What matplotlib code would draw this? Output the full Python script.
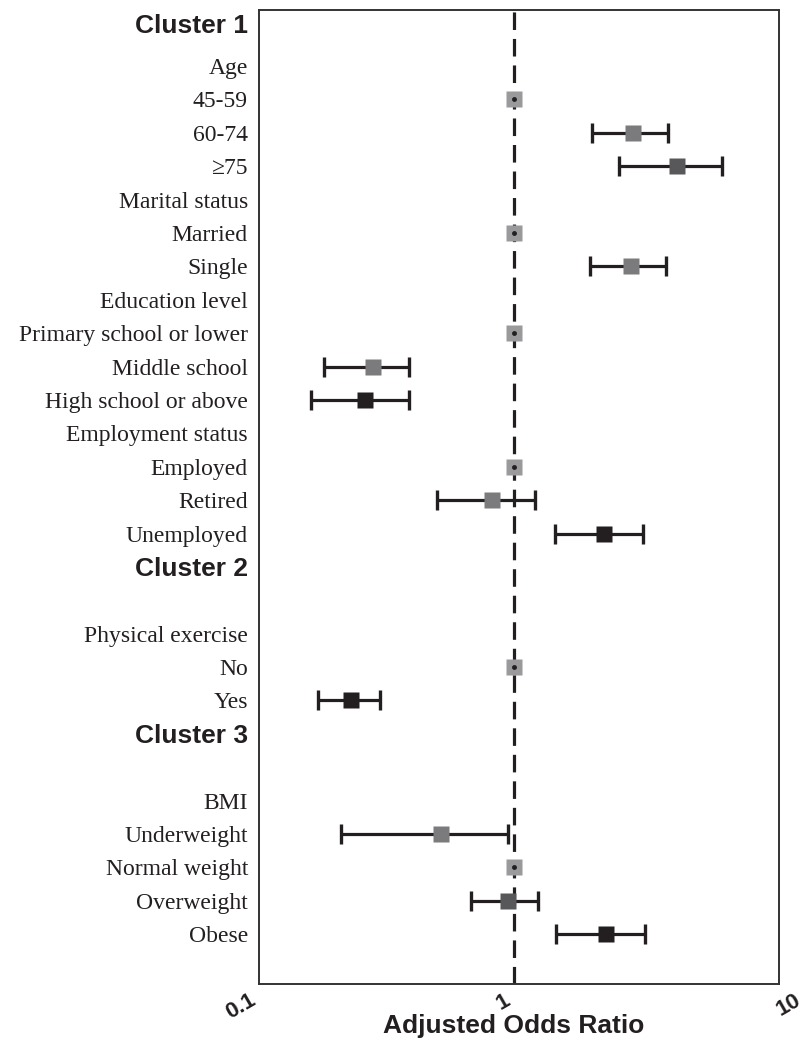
import matplotlib
matplotlib.use("Agg")
from matplotlib import pyplot as plt
from matplotlib.transforms import ScaledTranslation
import numpy as np

# row labels, top to bottom ("" = blank spacer row)
row_labels = ["Cluster 1", "Age", "45-59", "60-74", "\u226575", "Marital status",
              "Married", "Single", "Education level", "Primary school or lower",
              "Middle school", "High school or above", "Employment status",
              "Employed", "Retired", "Unemployed", "Cluster 2", "",
              "Physical exercise", "No", "Yes", "Cluster 3", "", "BMI",
              "Underweight", "Normal weight", "Overweight", "Obese"]
cluster_labels = ["Cluster 1", "Cluster 2", "Cluster 3"]

# estimates
est_labels = ["45-59", "60-74", "\u226575", "Married", "Single",
              "Primary school or lower", "Middle school", "High school or above",
              "Employed", "Retired", "Unemployed", "No", "Yes",
              "Underweight", "Normal weight", "Overweight", "Obese"]
aor = [1.00, 2.95, 4.38, 1.00, 2.90, 1.00, 0.28, 0.26, 1.00, 0.82, 2.26,
       1.00, 0.23, 0.52, 1.00, 0.95, 2.31]
ci_low = [1.00, 2.04, 2.60, 1.00, 1.99, 1.00, 0.18, 0.16, 1.00, 0.50, 1.45,
          1.00, 0.17, 0.21, 1.00, 0.68, 1.47]
ci_high = [1.00, 4.03, 6.58, 1.00, 3.97, 1.00, 0.39, 0.39, 1.00, 1.21, 3.24,
           1.00, 0.30, 0.95, 1.00, 1.25, 3.29]
group = ["ref", "mid", "dark", "ref", "mid", "ref", "mid", "black", "ref",
         "mid", "black", "ref", "black", "mid", "ref", "dark", "black"]

x_ticks = [0.1, 1, 10]
x_ticklabels = ["0.1", "1", "10"]

colors = {"ref": "#9a9a9c", "mid": "#7b7b7d", "dark": "#58585a", "black": "#231f20"}
ink = "#231f20"

fig = plt.figure(figsize=(8.06, 10.44), dpi=100)
ax = fig.add_axes([259 / 806, 1 - 984 / 1044, 520 / 806, 974 / 1044])

ax.set_xscale("log")
ax.set_xlim(0.1, 11.04)
ax.set_ylim(28.49, -0.677)

ax.axvline(1, color=ink, lw=2.3, ls=(0, (5.5, 2.8)), zorder=1)

ypos = np.array([row_labels.index(l) for l in est_labels])
aor = np.array(aor)
lo = np.array(ci_low)
hi = np.array(ci_high)
is_ref = np.array([g == "ref" for g in group])

# confidence intervals (non-reference rows)
nr = ~is_ref
ax.errorbar(aor[nr], ypos[nr], xerr=[aor[nr] - lo[nr], hi[nr] - aor[nr]],
            fmt="none", ecolor=ink, elinewidth=2.3, capsize=7, capthick=2.4,
            zorder=2)

for g in colors:
    m = np.array([x == g for x in group])
    ax.plot(aor[m], ypos[m], ls="none", marker="s", ms=11.5, mfc=colors[g],
            mec="none", zorder=3)

# small centre dot on reference categories
ax.plot(aor[is_ref], ypos[is_ref], ls="none", marker="o", ms=2.5, color=ink,
        zorder=4)

ax.set_xticks(x_ticks)
ax.set_xticklabels(x_ticklabels, rotation=30, ha="right", fontweight="bold",
                   fontsize=16, family="Liberation Sans", color=ink)
ax.xaxis.set_minor_locator(matplotlib.ticker.NullLocator())
ax.tick_params(axis="x", length=0, pad=4)
# the "10" label sits to the right of its tick in the original
last = ax.get_xticklabels()[-1]
last.set_transform(last.get_transform() + ScaledTranslation(0.36, 0, fig.dpi_scale_trans))

# heading "Cluster 1" sits a little higher than the regular row grid
ytick_pos = [i - 0.26 if i == 0 else i for i in range(len(row_labels))]
ax.set_yticks(ytick_pos)
ax.set_yticklabels(row_labels)
ax.tick_params(axis="y", length=0, pad=8)
for t in ax.get_yticklabels():
    if t.get_text() in cluster_labels:
        t.set_family("Liberation Sans")
        t.set_fontweight("bold")
        t.set_fontsize(19)
    else:
        t.set_family("Liberation Serif")
        t.set_fontsize(17)
    t.set_color(ink)

ax.set_xlabel("Adjusted Odds Ratio", fontsize=19, fontweight="bold",
              family="Liberation Sans", color=ink)
ax.xaxis.set_label_coords(0.49, -0.0305)

for s in ax.spines.values():
    s.set_linewidth(1.4)
    s.set_color("#333333")

fig.savefig("out.png", dpi=100)
